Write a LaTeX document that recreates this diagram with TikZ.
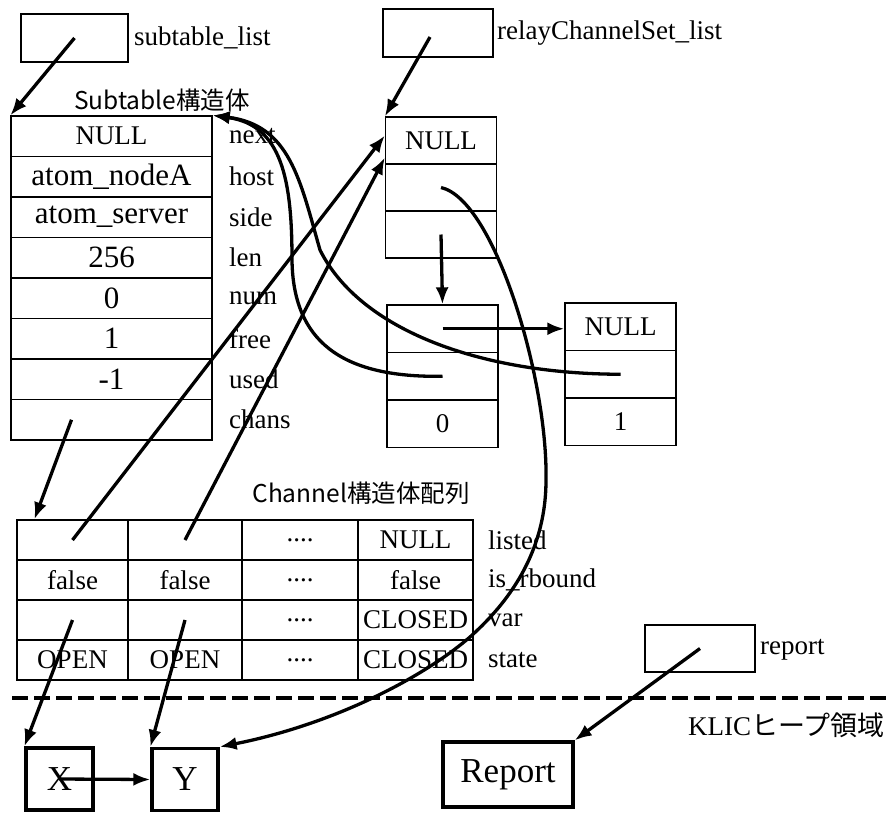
\documentclass[tikz,border=0pt]{standalone}
\usepackage{fontspec}
\setmainfont{Liberation Serif}
\newfontfamily\cjk{Noto Sans CJK JP}
\usetikzlibrary{arrows.meta}

\tikzset{
  cell/.style={draw, line width=1.3pt, inner sep=0pt, font=\fontsize{27}{30}\selectfont},
  stcell/.style={cell, minimum width=201pt, minimum height=40.5pt, font=\fontsize{31}{34}\selectfont},
  rccell/.style={cell, minimum width=111pt, minimum height=47.5pt},
  chcell/.style={cell, minimum height=40pt},
  fld/.style={anchor=west, inner sep=0pt, font=\fontsize{27}{30}\selectfont},
  title/.style={inner sep=0pt, font=\cjk\fontsize{24.5}{28}\selectfont},
  ptr/.style={line width=3.3pt, -{Latex[length=17pt,width=13pt]}},
  heap/.style={draw, line width=3.3pt, inner sep=0pt, font=\fontsize{35}{38}\selectfont},
}

\begin{document}
\begin{tikzpicture}[x=1pt, y=-1pt]
    \useasboundingbox (0,0) rectangle (886,812);

    \node[cell, minimum width=107pt, minimum height=48pt] (sl) at (74.5,38) {};
    \node[fld] (sllabel) at (134,38) {subtable\_list};
    \node[cell, minimum width=110pt, minimum height=48pt] (rl) at (438,33) {};
    \node[fld] (rllabel) at (497,33) {relayChannelSet\_list};

    \node[title] (sttitle) at (162,100) {Subtable構造体};
    \node[stcell, font=\fontsize{27}{30}\selectfont] (st1) at (111.5,136.25) {NULL};
    \node[stcell] (st2) at (111.5,176.75) {atom\_nodeA};
    \node[stcell] (st3) at (111.5,217.25) {atom\_server};
    \node[stcell] (st4) at (111.5,257.75) {256};
    \node[stcell] (st5) at (111.5,298.25) {0};
    \node[stcell] (st6) at (111.5,338.75) {1};
    \node[stcell] (st7) at (111.5,379.25) {-1};
    \node[stcell] (st8) at (111.5,419.75) {};
    \node[fld] (fnext) at (229,136.25) {next};
    \node[fld] (fhost) at (229,176.75) {host};
    \node[fld] (fside) at (229,217.25) {side};
    \node[fld] (flen) at (229,257.75) {len};
    \node[fld] (fnum) at (229,298.25) {num};
    \node[fld] (ffree) at (229,338.75) {free};
    \node[fld] (fused) at (229,379.25) {used};
    \node[fld] (fchans) at (229,419.75) {chans};

    \node[rccell, minimum height=47pt] (rc1) at (441,140.5) {NULL};
    \node[rccell, minimum height=47pt] (rc2) at (441,187.5) {};
    \node[rccell, minimum height=47pt] (rc3) at (441,234.5) {};

    \node[rccell] (b0a) at (442.5,328.75) {};
    \node[rccell] (b0b) at (442.5,376.25) {};
    \node[rccell] (b0c) at (442.5,423.75) {0};
    \node[rccell] (b1a) at (620.5,326.75) {NULL};
    \node[rccell] (b1b) at (620.5,374.25) {};
    \node[rccell] (b1c) at (620.5,421.75) {1};

    \node[title] (chtitle) at (361,493) {Channel構造体配列};
    \node[chcell, minimum width=111pt] (ch11) at (72.5,540) {};
    \node[chcell, minimum width=114pt] (ch12) at (185,540) {};
    \node[chcell, minimum width=116pt] (ch13) at (300,540) {....};
    \node[chcell, minimum width=115pt] (ch14) at (415.5,540) {NULL};
    \node[chcell, minimum width=111pt] (ch21) at (72.5,580) {false};
    \node[chcell, minimum width=114pt] (ch22) at (185,580) {false};
    \node[chcell, minimum width=116pt] (ch23) at (300,580) {....};
    \node[chcell, minimum width=115pt] (ch24) at (415.5,580) {false};
    \node[chcell, minimum width=111pt] (ch31) at (72.5,620) {};
    \node[chcell, minimum width=114pt] (ch32) at (185,620) {};
    \node[chcell, minimum width=116pt] (ch33) at (300,620) {....};
    \node[chcell, minimum width=115pt] (ch34) at (415.5,620) {CLOSED};
    \node[chcell, minimum width=111pt] (ch41) at (72.5,660) {OPEN};
    \node[chcell, minimum width=114pt] (ch42) at (185,660) {OPEN};
    \node[chcell, minimum width=116pt] (ch43) at (300,660) {....};
    \node[chcell, minimum width=115pt] (ch44) at (415.5,660) {CLOSED};
    \node[fld] (flisted) at (488,540) {listed};
    \node[fld] (frbound) at (488,580) {is\_rbound};
    \node[fld] (fvar) at (488,620) {var};
    \node[fld] (fstate) at (488,660) {state};

    \node[cell, minimum width=110pt, minimum height=47pt] (rp) at (700,648.5) {};
    \node[fld] (rplabel) at (760,650) {report};

    \draw[line width=4.5pt, dash pattern=on 16pt off 6pt] (12,698) -- (886,698);
    \node[fld] (heaplabel) at (688,725) {KLIC{\cjk ヒープ領域}};

    \node[heap, minimum width=67pt, minimum height=62pt] (X) at (59.5,779) {X};
    \node[heap, minimum width=66pt, minimum height=62pt] (Y) at (185,779.5) {Y};
    \node[heap, minimum width=130pt, minimum height=65pt] (Rep) at (508,774.5) {Report};

    \draw[ptr] (sl.center) -- (st1.north west);
    \draw[ptr] ([xshift=-8pt,yshift=-4pt]rl.center) -- (rc1.north west);
    \draw[ptr] (rc3.center) -- (b0a.north);
    \draw[ptr] (b0a.center) -- (b0a.center -| b1a.west);
    \draw[ptr] (b0b.center) .. controls (340,378) and (293,340) .. (292,260)
        .. controls (292,180) and (282,125) .. (st1.north east);
    \draw[ptr] (b1b.center) .. controls (480,374) and (360,330) .. (320,250)
        .. controls (300,180) and (290,125) .. (st1.north east);
    \draw[ptr] (rc2.center) .. controls (495,200) and (548,380) .. (546,480)
        .. controls (546,560) and (500,610) .. (470,637)
        .. controls (420,680) and (330,725) .. (Y.north east);
    \draw[ptr] ([xshift=-40pt]st8.center) -- ([xshift=18pt]ch11.north west);
    \draw[ptr] (ch11.center) -- ([yshift=5pt]rc1.west);
    \draw[ptr] (ch12.center) -- ([yshift=-17pt]rc1.west);
    \draw[ptr] (ch31.center) -- (X.north west);
    \draw[ptr] (ch32.center) -- (Y.north west);
    \draw[ptr] (X.center) -- (Y.west);
    \draw[ptr] (rp.center) -- (Rep.north east);
\end{tikzpicture}
\end{document}
